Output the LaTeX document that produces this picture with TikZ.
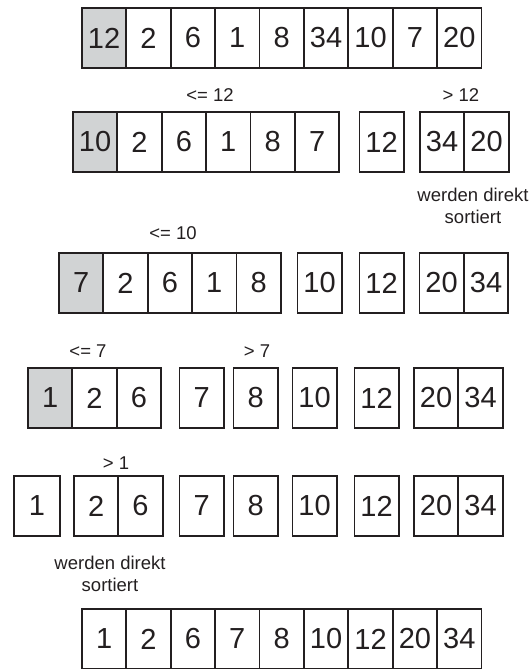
\documentclass[tikz,border=0pt]{standalone}
\usepackage{fontspec}
\setmainfont{Liberation Sans}
\definecolor{lineC}{HTML}{231F20}
\definecolor{pivotC}{HTML}{D1D3D4}
\begin{document}
\begin{tikzpicture}[x=1pt,y=1pt,
  cell/.style={draw=lineC,line width=1.8pt,minimum width=44.4pt,minimum height=60pt,inner sep=0pt,anchor=north west,
    font=\fontsize{29}{31}\selectfont,text=lineC},
  pivot/.style={cell,fill=pivotC},
  lbl/.style={font=\fontsize{18.5}{22}\selectfont,text=lineC,inner sep=0pt,align=center}]
\useasboundingbox (0,0) rectangle (531,-669);
% Row 1
\node[pivot] (a1) at (81,-7) {12};
\node[cell] (a2) at (125.4,-7) {2};
\node[cell] (a3) at (169.8,-7) {6};
\node[cell] (a4) at (214.2,-7) {1};
\node[cell] (a5) at (258.6,-7) {8};
\node[cell] (a6) at (303,-7) {34};
\node[cell] (a7) at (347.4,-7) {10};
\node[cell] (a8) at (391.8,-7) {7};
\node[cell] (a9) at (436.2,-7) {20};
% Row 2
\node[pivot] (b1) at (72,-111) {10};
\node[cell] (b2) at (116.4,-111) {2};
\node[cell] (b3) at (160.8,-111) {6};
\node[cell] (b4) at (205.2,-111) {1};
\node[cell] (b5) at (249.6,-111) {8};
\node[cell] (b6) at (294,-111) {7};
\node[cell] (b7) at (358.5,-111) {12};
\node[cell] (b8) at (419,-111) {34};
\node[cell] (b9) at (463.4,-111) {20};
\node[lbl] (l1) at (210,-95) {<= 12};
\node[lbl] (l2) at (461,-95) {> 12};
\node[lbl,anchor=north] (l3) at (473,-188) {werden direkt\\sortiert};
% Row 3
\node[pivot] (c1) at (58,-252) {7};
\node[cell] (c2) at (102.4,-252) {2};
\node[cell] (c3) at (146.8,-252) {6};
\node[cell] (c4) at (191.2,-252) {1};
\node[cell] (c5) at (235.6,-252) {8};
\node[cell] (c6) at (296.5,-252) {10};
\node[cell] (c7) at (358.5,-252) {12};
\node[cell] (c8) at (418.5,-252) {20};
\node[cell] (c9) at (462.9,-252) {34};
\node[lbl] (l4) at (173,-233) {<= 10};
% Row 4
\node[pivot] (d1) at (27,-367) {1};
\node[cell] (d2) at (71.4,-367) {2};
\node[cell] (d3) at (115.8,-367) {6};
\node[cell] (d4) at (178.5,-367) {7};
\node[cell] (d5) at (232.5,-367) {8};
\node[cell] (d6) at (291.5,-367) {10};
\node[cell] (d7) at (353.5,-367) {12};
\node[cell] (d8) at (413,-367) {20};
\node[cell] (d9) at (457.4,-367) {34};
\node[lbl] (l5) at (88,-351) {<= 7};
\node[lbl] (l6) at (257,-351) {> 7};
% Row 5
\node[cell,minimum width=46pt] (e1) at (13,-475) {1};
\node[cell] (e2) at (73,-475) {2};
\node[cell] (e3) at (117.4,-475) {6};
\node[cell] (e4) at (178.5,-475) {7};
\node[cell] (e5) at (232.5,-475) {8};
\node[cell] (e6) at (291.5,-475) {10};
\node[cell] (e7) at (353.5,-475) {12};
\node[cell] (e8) at (413,-475) {20};
\node[cell] (e9) at (457.4,-475) {34};
\node[lbl] (l7) at (116,-463) {> 1};
\node[lbl,anchor=north] (l8) at (110,-556) {werden direkt\\sortiert};
% Row 6
\node[cell] (f1) at (81,-608) {1};
\node[cell] (f2) at (125.4,-608) {2};
\node[cell] (f3) at (169.8,-608) {6};
\node[cell] (f4) at (214.2,-608) {7};
\node[cell] (f5) at (258.6,-608) {8};
\node[cell] (f6) at (303,-608) {10};
\node[cell] (f7) at (347.4,-608) {12};
\node[cell] (f8) at (391.8,-608) {20};
\node[cell] (f9) at (436.2,-608) {34};
\end{tikzpicture}
\end{document}
